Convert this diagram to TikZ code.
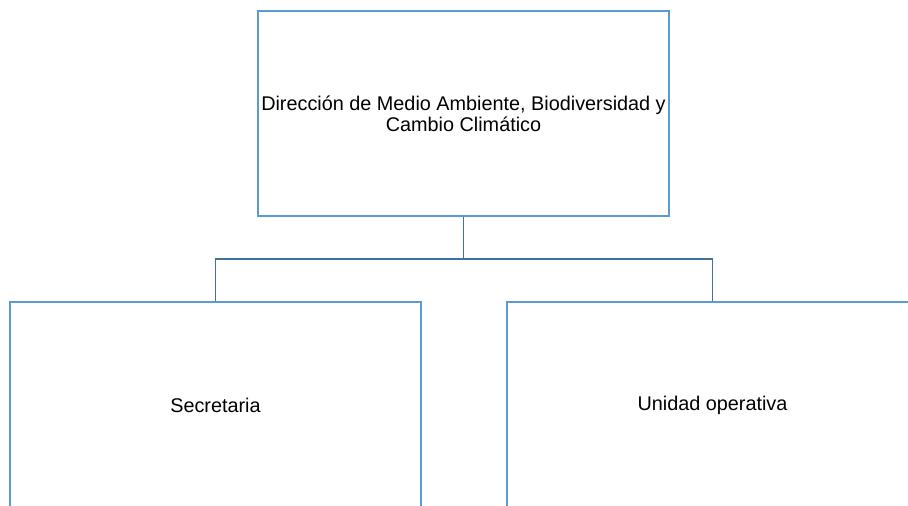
\documentclass[tikz,border=0pt]{standalone}
\usepackage{fontspec}
\setmainfont{Liberation Sans}
\usepackage{xcolor}
\definecolor{boxblue}{HTML}{5B9BD5}
\definecolor{linkblue}{HTML}{41719C}
\tikzset{
  unit/.style={draw=boxblue, line width=1.4pt, fill=white, align=center,
    minimum width=10.275cm, minimum height=5.125cm, inner sep=0pt,
    font=\fontsize{14.1}{14.9}\selectfont},
  link/.style={draw=linkblue, line width=1.2pt}
}
\begin{document}
\begin{tikzpicture}[x=0.025cm, y=-0.025cm]
  \clip (0,0) rectangle (908,506);
  \fill[white] (0,0) rectangle (908,506);

  \node[unit] (dir) at (463.5,113.5) {Dirección de Medio Ambiente, Biodiversidad y\\Cambio Climático};
  \node[unit] (sec) at (215.5,405) {Secretaria};
  \node[unit] (uni) at (712.5,405) {Unidad operativa};

  \coordinate (bus) at (463.5,259);
  \draw[link] (dir.south) -- (bus);
  \draw[link] (bus) -| (sec.north);
  \draw[link] (bus) -| (uni.north);
\end{tikzpicture}
\end{document}
